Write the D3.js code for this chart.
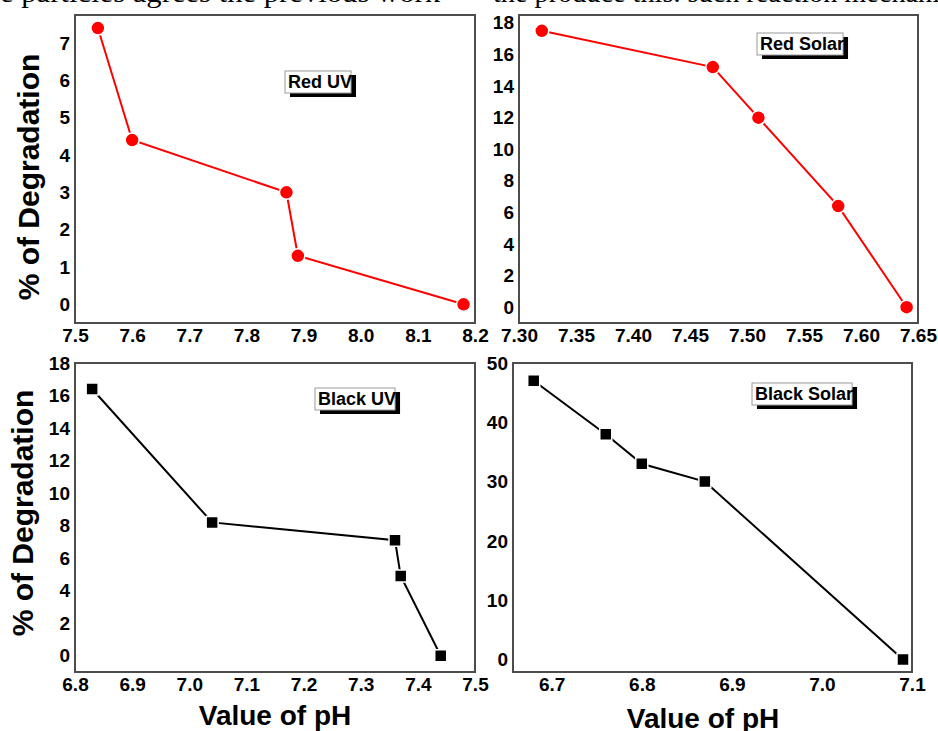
<!DOCTYPE html>
<html>
<head>
<meta charset="utf-8">
<script src="https://cdn.jsdelivr.net/npm/d3@7"></script>
<style>
  html, body { margin: 0; padding: 0; background: #fff; }
  svg { display: block; }
  .tick text { font-family: "Liberation Sans", Arial, sans-serif; font-weight: bold; font-size: 19px; fill: #000; }
</style>
</head>
<body>
<div id="chart"></div>
<script>
// Data
const redUvPH = [7.54, 7.60, 7.87, 7.89, 8.18];
const redUvDeg = [7.4, 4.4, 3.0, 1.3, 0];
const redSolarPH = [7.32, 7.47, 7.51, 7.58, 7.64];
const redSolarDeg = [17.5, 15.2, 12.0, 6.4, 0];
const blackUvPH = [6.83, 7.04, 7.36, 7.37, 7.44];
const blackUvDeg = [16.4, 8.2, 7.1, 4.9, 0];
const blackSolarPH = [6.68, 6.76, 6.80, 6.87, 7.09];
const blackSolarDeg = [47, 38, 33, 30, 0];

// Tick labels
const redUvXTicks = [7.5, 7.6, 7.7, 7.8, 7.9, 8.0, 8.1, 8.2];
const redUvYTicks = [0, 1, 2, 3, 4, 5, 6, 7];
const redSolarXTicks = [7.30, 7.35, 7.40, 7.45, 7.50, 7.55, 7.60, 7.65];
const redSolarYTicks = [0, 2, 4, 6, 8, 10, 12, 14, 16, 18];
const blackUvXTicks = [6.8, 6.9, 7.0, 7.1, 7.2, 7.3, 7.4, 7.5];
const blackUvYTicks = [0, 2, 4, 6, 8, 10, 12, 14, 16, 18];
const blackSolarXTicks = [6.7, 6.8, 6.9, 7.0, 7.1];
const blackSolarYTicks = [0, 10, 20, 30, 40, 50];

const width = 938, height = 731;
const sans = "'Liberation Sans', Arial, sans-serif";

const svg = d3.select("#chart")
    .append("svg")
    .attr("width", width)
    .attr("height", height);

// Clipped body text of the page above the figure
svg.append("text")
    .attr("x", 0).attr("y", 1.5)
    .attr("textLength", 440)
    .attr("lengthAdjust", "spacingAndGlyphs")
    .style("font-family", "'Liberation Serif', 'Times New Roman', serif")
    .style("font-size", "28px")
    .text("e particles agrees the previous work");
svg.append("text")
    .attr("x", 493).attr("y", 1.5)
    .attr("textLength", 480)
    .attr("lengthAdjust", "spacingAndGlyphs")
    .style("font-family", "'Liberation Serif', 'Times New Roman', serif")
    .style("font-size", "28px")
    .text("the produce this. such reaction mechanism");

const panels = [
    { label: "Red UV", xs: redUvPH, ys: redUvDeg, xTicks: redUvXTicks, yTicks: redUvYTicks,
      xFmt: ".1f", xDomain: [7.5, 8.2], yDomain: [-0.5, 7.75],
      box: { left: 75, right: 475, top: 15, bottom: 323 },
      color: "#ff0000", marker: "circle", legend: [285, 71] },
    { label: "Red Solar", xs: redSolarPH, ys: redSolarDeg, xTicks: redSolarXTicks, yTicks: redSolarYTicks,
      xFmt: ".2f", xDomain: [7.30, 7.65], yDomain: [-1.0, 18.5],
      box: { left: 519, right: 918, top: 15, bottom: 323 },
      color: "#ff0000", marker: "circle", legend: [757, 33] },
    { label: "Black UV", xs: blackUvPH, ys: blackUvDeg, xTicks: blackUvXTicks, yTicks: blackUvYTicks,
      xFmt: ".1f", xDomain: [6.8, 7.5], yDomain: [-1.0, 18],
      box: { left: 75, right: 475, top: 363, bottom: 672 },
      color: "#000000", marker: "square", legend: [315, 388] },
    { label: "Black Solar", xs: blackSolarPH, ys: blackSolarDeg, xTicks: blackSolarXTicks, yTicks: blackSolarYTicks,
      xFmt: ".1f", xDomain: [6.657, 7.1], yDomain: [-2.1, 50],
      box: { left: 513, right: 912, top: 363, bottom: 672 },
      color: "#000000", marker: "square", legend: [752, 383] }
];

panels.forEach(p => {
    const b = p.box;
    const x = d3.scaleLinear().domain(p.xDomain).range([b.left, b.right]);
    const y = d3.scaleLinear().domain(p.yDomain).range([b.bottom, b.top]);
    const g = svg.append("g");

    // X axis labels (no tick marks)
    const xAxis = g.append("g")
        .attr("transform", `translate(0,${b.bottom})`)
        .call(d3.axisBottom(x).tickValues(p.xTicks).tickSize(0).tickPadding(6).tickFormat(d3.format(p.xFmt)));
    xAxis.select(".domain").remove();
    xAxis.selectAll("text").attr("dy", "0.71em");

    // Y axis labels
    const yAxis = g.append("g")
        .attr("transform", `translate(${b.left},0)`)
        .call(d3.axisLeft(y).tickValues(p.yTicks).tickSize(0).tickPadding(5).tickFormat(d3.format("d")));
    yAxis.select(".domain").remove();

    // Frame
    g.append("rect")
        .attr("x", b.left).attr("y", b.top)
        .attr("width", b.right - b.left).attr("height", b.bottom - b.top)
        .attr("fill", "none")
        .attr("stroke", "#4d4d4d")
        .attr("stroke-width", 2);

    const pts = p.xs.map((v, i) => ({ ph: v, deg: p.ys[i] }));

    // Line
    g.append("path")
        .datum(pts)
        .attr("fill", "none")
        .attr("stroke", p.color)
        .attr("stroke-width", 2)
        .attr("d", d3.line().x(d => x(d.ph)).y(d => y(d.deg)));

    // Markers
    const sym = p.marker === "circle"
        ? d3.symbol(d3.symbolCircle, Math.PI * 49)
        : d3.symbol(d3.symbolSquare, 144);
    g.selectAll(".pt")
        .data(pts)
        .enter()
        .append("path")
        .attr("class", "pt")
        .attr("transform", d => `translate(${x(d.ph)},${y(d.deg)})`)
        .attr("d", sym)
        .attr("fill", p.color)
        .attr("stroke", "#fff")
        .attr("stroke-width", 1.5);

    // Legend box with drop shadow
    const [lx, ly] = p.legend;
    const lg = g.append("g").attr("transform", `translate(${lx},${ly})`);
    const shadow = lg.append("rect").attr("fill", "#000");
    const boxRect = lg.append("rect").attr("fill", "#fff").attr("stroke", "#9a9a9a").attr("stroke-width", 1);
    const t = lg.append("text")
        .attr("x", 3).attr("y", 17)
        .style("font-family", sans)
        .style("font-weight", "bold")
        .style("font-size", "18px")
        .text(p.label);
    const tw = t.node().getComputedTextLength();
    boxRect.attr("width", tw + 2).attr("height", 22);
    shadow.attr("x", 5).attr("y", 4).attr("width", tw + 2).attr("height", 22);
});

// Axis titles
function yTitle(xPos, yPos) {
    svg.append("text")
        .attr("transform", `translate(${xPos},${yPos}) rotate(-90)`)
        .attr("text-anchor", "middle")
        .style("font-family", sans)
        .style("font-weight", "bold")
        .style("font-size", "30px")
        .text("% of Degradation");
}
yTitle(39, 177);
yTitle(33, 513);

function xTitle(xPos, yPos) {
    svg.append("text")
        .attr("x", xPos).attr("y", yPos)
        .attr("text-anchor", "middle")
        .style("font-family", sans)
        .style("font-weight", "bold")
        .style("font-size", "28px")
        .text("Value of pH");
}
xTitle(275, 725);
xTitle(703, 728);
</script>
</body>
</html>
